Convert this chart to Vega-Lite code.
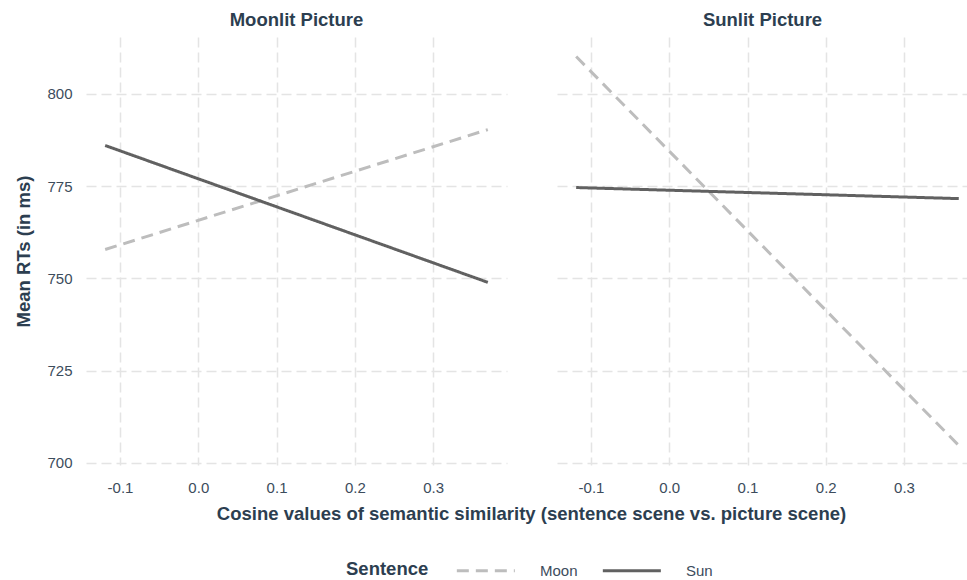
{
  "$schema": "https://vega.github.io/schema/vega-lite/v6.json",
  "background": "white",
  "padding": {"left": 14, "top": 10, "right": 0, "bottom": 0},
  "autosize": {"type": "pad"},
  "bounds": "flush",
  "spacing": 50,
  "config": {
    "view": {"stroke": null},
    "font": "Liberation Sans",
    "axis": {
      "domain": false,
      "ticks": false,
      "grid": true,
      "gridColor": "#e4e4e4",
      "gridWidth": 1.5,
      "gridDash": [10, 5],
      "labelFont": "Liberation Sans",
      "labelFontSize": 15,
      "labelColor": "#3c4c5c",
      "titleFont": "Liberation Sans",
      "titleFontSize": 18.5,
      "titleFontWeight": "bold",
      "titleColor": "#2c3e50"
    },
    "title": {
      "font": "Liberation Sans",
      "fontSize": 18.5,
      "fontWeight": "bold",
      "color": "#2c3e50",
      "anchor": "middle",
      "offset": 8
    }
  },
  "data": {
    "values": [
      {"panel": "Moonlit Picture", "sentence": "Moon", "similarity": -0.119, "rt": 757.8},
      {"panel": "Moonlit Picture", "sentence": "Moon", "similarity": 0.370, "rt": 790.3},
      {"panel": "Moonlit Picture", "sentence": "Sun", "similarity": -0.119, "rt": 786.0},
      {"panel": "Moonlit Picture", "sentence": "Sun", "similarity": 0.370, "rt": 748.9},
      {"panel": "Sunlit Picture", "sentence": "Moon", "similarity": -0.119, "rt": 810.1},
      {"panel": "Sunlit Picture", "sentence": "Moon", "similarity": 0.370, "rt": 704.7},
      {"panel": "Sunlit Picture", "sentence": "Sun", "similarity": -0.119, "rt": 774.6},
      {"panel": "Sunlit Picture", "sentence": "Sun", "similarity": 0.370, "rt": 771.6}
    ]
  },
  "hconcat": [
    {
      "title": {"text": "Moonlit Picture"},
      "width": 421,
      "height": 428,
      "transform": [{"filter": "datum.panel === 'Moonlit Picture'"}],
      "mark": {"type": "line", "strokeWidth": 3},
      "encoding": {
        "x": {
          "field": "similarity", "type": "quantitative",
          "scale": {"domain": [-0.1435, 0.3945], "nice": false, "zero": false},
          "axis": {
            "values": [-0.1, 0, 0.1, 0.2, 0.3],
            "labelExpr": "datum.value < 0 ? '-' + format(-datum.value, '.1f') : format(datum.value, '.1f')",
            "labelPadding": 15,
            "title": "Cosine values of semantic similarity (sentence scene vs. picture scene)",
            "titleX": 445,
            "titleAlign": "center",
            "titlePadding": 9
          }
        },
        "y": {
          "field": "rt", "type": "quantitative",
          "scale": {"domain": [699.4, 815.4], "nice": false, "zero": false},
          "axis": {
            "values": [700, 725, 750, 775, 800],
            "labelPadding": 14,
            "title": "Mean RTs (in ms)",
            "titlePadding": 13
          }
        },
        "color": {
          "field": "sentence", "type": "nominal",
          "scale": {"domain": ["Moon", "Sun"], "range": ["#bdbdbd", "#616161"]},
          "legend": {
            "title": "Sentence",
            "orient": "none",
            "legendX": 260,
            "legendY": 522,
            "direction": "horizontal",
            "titleOrient": "left",
            "titlePadding": 26,
            "titleFontSize": 18.5,
            "titleFontWeight": "bold",
            "titleColor": "#2c3e50",
            "titleFont": "Liberation Sans",
            "labelFontSize": 15,
            "labelColor": "#3c4c5c",
            "labelFont": "Liberation Sans",
            "symbolType": "M-1,0H5",
            "symbolSize": 374,
            "symbolStrokeWidth": 3,
            "labelOffset": 62,
            "columnPadding": 18
          }
        },
        "strokeDash": {
          "field": "sentence", "type": "nominal",
          "scale": {"domain": ["Moon", "Sun"], "range": [[12, 7], [1, 0]]},
          "legend": {
            "title": "Sentence",
            "orient": "none",
            "legendX": 260,
            "legendY": 522,
            "direction": "horizontal",
            "titleOrient": "left",
            "titlePadding": 26,
            "titleFontSize": 18.5,
            "titleFontWeight": "bold",
            "titleColor": "#2c3e50",
            "titleFont": "Liberation Sans",
            "labelFontSize": 15,
            "labelColor": "#3c4c5c",
            "labelFont": "Liberation Sans",
            "symbolType": "M-1,0H5",
            "symbolSize": 374,
            "symbolStrokeWidth": 3,
            "labelOffset": 62,
            "columnPadding": 18
          }
        }
      }
    },
    {
      "title": {"text": "Sunlit Picture"},
      "width": 411,
      "height": 428,
      "transform": [{"filter": "datum.panel === 'Sunlit Picture'"}],
      "mark": {"type": "line", "strokeWidth": 3},
      "encoding": {
        "x": {
          "field": "similarity", "type": "quantitative",
          "scale": {"domain": [-0.1435, 0.3818], "nice": false, "zero": false},
          "axis": {
            "values": [-0.1, 0, 0.1, 0.2, 0.3],
            "labelExpr": "datum.value < 0 ? '-' + format(-datum.value, '.1f') : format(datum.value, '.1f')",
            "labelPadding": 15,
            "title": null
          }
        },
        "y": {
          "field": "rt", "type": "quantitative",
          "scale": {"domain": [699.4, 815.4], "nice": false, "zero": false},
          "axis": {
            "values": [700, 725, 750, 775, 800],
            "labels": false,
            "title": null
          }
        },
        "color": {
          "field": "sentence", "type": "nominal",
          "scale": {"domain": ["Moon", "Sun"], "range": ["#bdbdbd", "#616161"]}
        },
        "strokeDash": {
          "field": "sentence", "type": "nominal",
          "scale": {"domain": ["Moon", "Sun"], "range": [[12, 7], [1, 0]]}
        }
      }
    }
  ],
  "resolve": {"scale": {"x": "independent"}}
}
